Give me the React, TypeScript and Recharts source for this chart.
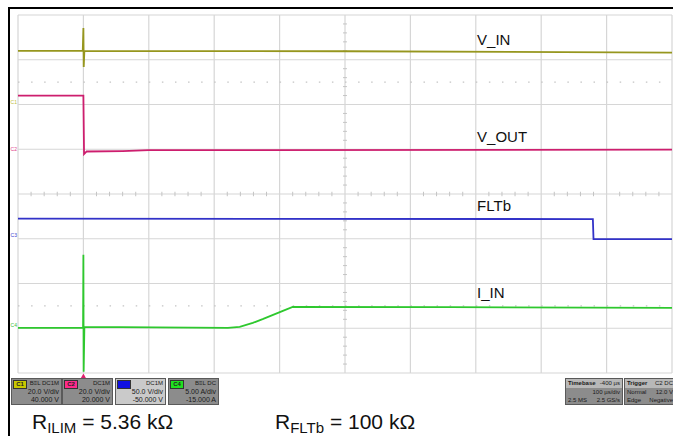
import { LineChart, Line, XAxis, YAxis, ReferenceLine, ReferenceDot } from "recharts";

// time in µs (trigger at 0), level in screen divisions from the centre line
const timeTicks = [-100, 0, 100, 200, 300, 400, 500, 600, 700, 800, 900];
const levelTicks = [-4, -3, -2, -1, 0, 1, 2, 3, 4];
const dottedLevels = [2.5, -2.5];

const vinData = [
  { t: -100, v: 3.2 }, { t: -1, v: 3.2 }, { t: 0, v: 3.71 }, { t: 0.5, v: 2.84 },
  { t: 1.5, v: 3.2 }, { t: 400, v: 3.19 }, { t: 900, v: 3.16 },
];
const voutData = [
  { t: -100, v: 2.2 }, { t: 0, v: 2.2 }, { t: 1, v: 0.89 }, { t: 5, v: 0.95 },
  { t: 60, v: 0.96 }, { t: 100, v: 0.98 }, { t: 900, v: 0.99 },
];
const fltData = [
  { t: -100, v: -0.55 }, { t: 779, v: -0.56 }, { t: 780, v: -1.01 }, { t: 900, v: -1.01 },
];
const iinData = [
  { t: -100, v: -2.99 }, { t: -0.5, v: -2.99 }, { t: 0, v: -1.36 }, { t: 0.4, v: -3.97 },
  { t: 1.5, v: -2.97 }, { t: 221, v: -2.99 }, { t: 239, v: -2.97 }, { t: 259, v: -2.88 },
  { t: 275, v: -2.79 }, { t: 290, v: -2.7 }, { t: 305, v: -2.61 }, { t: 320, v: -2.525 },
  { t: 560, v: -2.53 }, { t: 900, v: -2.545 },
];

const traceNames = ["V_IN", "V_OUT", "FLTb", "I_IN"];
const traceColors = ["#96961e", "#cd1e6e", "#3232c8", "#2ec82e"];
const traceLabelLevels = [3.44, 1.27, -0.25, -2.21];
const labelTime = 602;

const channelTags = ["C1", "C2", "C3", "C4"];
const channelTagColors = ["#c8c800", "#ff2a8a", "#1010e0", "#20e020"];
const channelMarkerColors = ["#c0c040", "#e0408a", "#4040d0", "#40c040"];
const channelZero = [2.06, 1.0, -0.92, -2.93];
const channelCoupling = ["B≡L DC1M", "DC1M", "DC1M", "B≡L DC"];
const channelScale = ["20.0 V/div", "20.0 V/div", "50.0 V/div", "5.00 A/div"];
const channelOffset = ["40.000 V", "20.000 V", "-50.000 V", "-15.000 A"];
const channelBoxLeft = [11, 62, 115, 168];

const FONT = "'Liberation Sans', Arial, sans-serif";
const GRID = "#d6d6d6";

const minorTimes = timeTicks.slice(0, -1).flatMap(t => [t + 20, t + 40, t + 60, t + 80]);
const minorLevels = levelTicks.slice(0, -1).flatMap(l => [l + 0.2, l + 0.4, l + 0.6, l + 0.8]);

const TriggerMark = (p: any) => (
  <polygon points={`${p.cx - 2.5},${p.cy + 5} ${p.cx + 2.5},${p.cy + 5} ${p.cx},${p.cy + 0.5}`} fill="#e0206e" />
);

function ChannelBox({ i }: { i: number }) {
  const light = i === 2;
  return (
    <div
      style={{
        position: "absolute", left: channelBoxLeft[i], top: 378, width: 51, height: 27,
        background: light ? "#cacaca" : "#8c8c8c", border: "1px solid #5a5a5a",
        boxSizing: "border-box", fontSize: 7, color: "#1a1a1a", lineHeight: "8px",
      }}
    >
      <div
        style={{
          position: "absolute", left: 1, top: 1, width: 12, height: 7, background: channelTagColors[i],
          border: "1px solid #333", fontWeight: "bold", fontSize: 6, lineHeight: "7px", textAlign: "center",
          color: "#222",
        }}
      >
        {i === 2 ? "" : channelTags[i]}
      </div>
      <div style={{ position: "absolute", right: 2, top: 0, fontSize: 6 }}>{channelCoupling[i]}</div>
      <div style={{ position: "absolute", right: 2, top: 9 }}>{channelScale[i]}</div>
      <div style={{ position: "absolute", right: 2, top: 17 }}>{channelOffset[i]}</div>
    </div>
  );
}

function InfoBox({ left, width, head, rows }: { left: number; width: number; head: string[]; rows: string[][] }) {
  return (
    <div
      style={{
        position: "absolute", left, top: 378, width, height: 27, background: "#8c8c8c",
        border: "1px solid #5a5a5a", boxSizing: "border-box", fontSize: 6, color: "#1a1a1a", lineHeight: "8px",
      }}
    >
      <div style={{ background: "#b8b8b8", height: 9, display: "flex", justifyContent: "space-between", padding: "0 2px", fontWeight: "bold" }}>
        <span>{head[0]}</span><span style={{ fontWeight: "normal" }}>{head[1]}</span>
      </div>
      {rows.map((r, k) => (
        <div key={k} style={{ display: "flex", justifyContent: "space-between", padding: "0 2px" }}>
          <span>{r[0]}</span><span>{r[1]}</span>
        </div>
      ))}
    </div>
  );
}

export default function App() {
  const series = [vinData, voutData, fltData, iinData];
  return (
    <div style={{ position: "absolute", left: 0, top: 0, width: 673, height: 436, background: "#fff", fontFamily: FONT, overflow: "hidden" }}>
      <div style={{ position: "absolute", left: 8, top: 7, width: 665, height: 429, borderTop: "2px solid #000", borderLeft: "2px solid #000", boxSizing: "border-box" }} />
      <div style={{ position: "absolute", left: 0, top: 0 }}>
        <LineChart width={673} height={436} margin={{ top: 15, right: 1, bottom: 63, left: 18 }}>
          <XAxis type="number" dataKey="t" domain={[-100, 900]} ticks={timeTicks} hide allowDataOverflow />
          <YAxis type="number" domain={[-4, 4]} ticks={levelTicks} hide width={0} allowDataOverflow />
          {timeTicks.map(t => (
            <ReferenceLine key={`gx${t}`} x={t} stroke={GRID} strokeWidth={1.2} />
          ))}
          {levelTicks.map(l => (
            <ReferenceLine key={`gy${l}`} y={l} stroke={GRID} strokeWidth={1.2} />
          ))}
          {dottedLevels.map(l => (
            <ReferenceLine key={`d${l}`} y={l} stroke="#c4c4c4" strokeWidth={1.2} strokeDasharray="1.5 11.58" />
          ))}
          {minorTimes.map(t => (
            <ReferenceLine key={`mx${t}`} segment={[{ x: t, y: -0.05 }, { x: t, y: 0.05 }]} stroke="#c4c4c4" />
          ))}
          {minorLevels.map(l => (
            <ReferenceLine key={`my${l}`} segment={[{ x: 397, y: l }, { x: 403, y: l }]} stroke="#c4c4c4" />
          ))}
          {series.map((d, i) => (
            <Line
              key={traceNames[i]}
              data={d}
              dataKey="v"
              type="linear"
              stroke={traceColors[i]}
              strokeWidth={1.8}
              dot={false}
              isAnimationActive={false}
            />
          ))}
          {traceNames.map((n, i) => (
            <ReferenceDot
              key={`l${n}`}
              x={labelTime}
              y={traceLabelLevels[i]}
              r={0}
              fill="none"
              stroke="none"
              label={{ value: n, position: "right", offset: 0, fill: "#111", fontSize: 15, fontFamily: FONT }}
            />
          ))}
          {channelTags.map((c, i) => (
            <ReferenceDot
              key={`c${c}`}
              x={-100}
              y={channelZero[i]}
              r={0}
              fill="none"
              stroke="none"
              ifOverflow="visible"
              label={{ value: c, position: "left", offset: 1, fill: channelMarkerColors[i], fontSize: 5, fontFamily: FONT }}
            />
          ))}
          <ReferenceDot x={0} y={-4} ifOverflow="visible" shape={TriggerMark} />
        </LineChart>
      </div>
      {channelTags.map((c, i) => (
        <ChannelBox key={c} i={i} />
      ))}
      <InfoBox left={565} width={58} head={["Timebase", "-400 µs"]} rows={[["", "100 µs/div"], ["2.5 MS", "2.5 GS/s"]]} />
      <InfoBox left={624} width={52} head={["Trigger", "C2 DC"]} rows={[["Normal", "12.0 V"], ["Edge", "Negative"]]} />
      <div style={{ position: "absolute", left: 32, top: 411, fontSize: 21, lineHeight: "21px", whiteSpace: "nowrap", color: "#111" }}>
        R<span style={{ fontSize: 15, position: "relative", top: 4 }}>ILIM</span> = 5.36 kΩ
      </div>
      <div style={{ position: "absolute", left: 275, top: 411, fontSize: 21, lineHeight: "21px", whiteSpace: "nowrap", color: "#111" }}>
        R<span style={{ fontSize: 15, position: "relative", top: 4 }}>FLTb</span> = 100 kΩ
      </div>
    </div>
  );
}
